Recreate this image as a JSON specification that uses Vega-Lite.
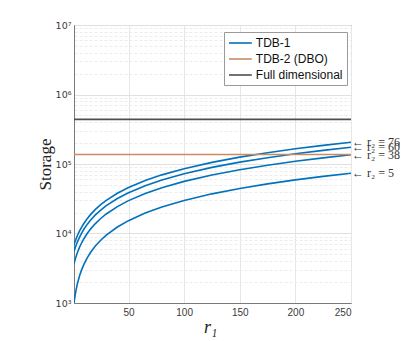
{
  "$schema": "https://vega.github.io/schema/vega-lite/v6.json",
  "width": 277,
  "height": 278,
  "autosize": {"type": "none"},
  "padding": {"left": 74, "top": 25, "right": 68, "bottom": 38},
  "background": "white",
  "config": {
    "view": {"stroke": "#7a7a7a", "strokeWidth": 1},
    "axis": {"labelFont": "Liberation Sans", "labelFontSize": 10, "labelColor": "#3a3a3a", "domainColor": "#7a7a7a", "ticks": false}
  },
  "datasets": {
    "curves": [
      {"r1": 1, "storage": 1000, "series": "r2=5", "method": "TDB-1"},
      {"r1": 2, "storage": 1292, "series": "r2=5", "method": "TDB-1"},
      {"r1": 3, "storage": 1584, "series": "r2=5", "method": "TDB-1"},
      {"r1": 4, "storage": 1876, "series": "r2=5", "method": "TDB-1"},
      {"r1": 6, "storage": 2460, "series": "r2=5", "method": "TDB-1"},
      {"r1": 8, "storage": 3044, "series": "r2=5", "method": "TDB-1"},
      {"r1": 10, "storage": 3628, "series": "r2=5", "method": "TDB-1"},
      {"r1": 13, "storage": 4504, "series": "r2=5", "method": "TDB-1"},
      {"r1": 16, "storage": 5380, "series": "r2=5", "method": "TDB-1"},
      {"r1": 20, "storage": 6548, "series": "r2=5", "method": "TDB-1"},
      {"r1": 25, "storage": 8008, "series": "r2=5", "method": "TDB-1"},
      {"r1": 30, "storage": 9468, "series": "r2=5", "method": "TDB-1"},
      {"r1": 40, "storage": 12388, "series": "r2=5", "method": "TDB-1"},
      {"r1": 50, "storage": 15308, "series": "r2=5", "method": "TDB-1"},
      {"r1": 65, "storage": 19688, "series": "r2=5", "method": "TDB-1"},
      {"r1": 80, "storage": 24068, "series": "r2=5", "method": "TDB-1"},
      {"r1": 100, "storage": 29908, "series": "r2=5", "method": "TDB-1"},
      {"r1": 125, "storage": 37208, "series": "r2=5", "method": "TDB-1"},
      {"r1": 150, "storage": 44508, "series": "r2=5", "method": "TDB-1"},
      {"r1": 175, "storage": 51808, "series": "r2=5", "method": "TDB-1"},
      {"r1": 200, "storage": 59108, "series": "r2=5", "method": "TDB-1"},
      {"r1": 225, "storage": 66408, "series": "r2=5", "method": "TDB-1"},
      {"r1": 250, "storage": 73708, "series": "r2=5", "method": "TDB-1"},

      {"r1": 1, "storage": 3701, "series": "r2=38", "method": "TDB-1"},
      {"r1": 2, "storage": 4232, "series": "r2=38", "method": "TDB-1"},
      {"r1": 3, "storage": 4763, "series": "r2=38", "method": "TDB-1"},
      {"r1": 4, "storage": 5294, "series": "r2=38", "method": "TDB-1"},
      {"r1": 6, "storage": 6356, "series": "r2=38", "method": "TDB-1"},
      {"r1": 8, "storage": 7418, "series": "r2=38", "method": "TDB-1"},
      {"r1": 10, "storage": 8480, "series": "r2=38", "method": "TDB-1"},
      {"r1": 13, "storage": 10073, "series": "r2=38", "method": "TDB-1"},
      {"r1": 16, "storage": 11666, "series": "r2=38", "method": "TDB-1"},
      {"r1": 20, "storage": 13790, "series": "r2=38", "method": "TDB-1"},
      {"r1": 25, "storage": 16445, "series": "r2=38", "method": "TDB-1"},
      {"r1": 30, "storage": 19100, "series": "r2=38", "method": "TDB-1"},
      {"r1": 40, "storage": 24410, "series": "r2=38", "method": "TDB-1"},
      {"r1": 50, "storage": 29720, "series": "r2=38", "method": "TDB-1"},
      {"r1": 65, "storage": 37685, "series": "r2=38", "method": "TDB-1"},
      {"r1": 80, "storage": 45650, "series": "r2=38", "method": "TDB-1"},
      {"r1": 100, "storage": 56270, "series": "r2=38", "method": "TDB-1"},
      {"r1": 125, "storage": 69545, "series": "r2=38", "method": "TDB-1"},
      {"r1": 150, "storage": 82820, "series": "r2=38", "method": "TDB-1"},
      {"r1": 175, "storage": 96095, "series": "r2=38", "method": "TDB-1"},
      {"r1": 200, "storage": 109370, "series": "r2=38", "method": "TDB-1"},
      {"r1": 225, "storage": 122645, "series": "r2=38", "method": "TDB-1"},
      {"r1": 250, "storage": 135920, "series": "r2=38", "method": "TDB-1"},

      {"r1": 1, "storage": 5497, "series": "r2=60", "method": "TDB-1"},
      {"r1": 2, "storage": 6174, "series": "r2=60", "method": "TDB-1"},
      {"r1": 3, "storage": 6851, "series": "r2=60", "method": "TDB-1"},
      {"r1": 4, "storage": 7528, "series": "r2=60", "method": "TDB-1"},
      {"r1": 6, "storage": 8882, "series": "r2=60", "method": "TDB-1"},
      {"r1": 8, "storage": 10236, "series": "r2=60", "method": "TDB-1"},
      {"r1": 10, "storage": 11590, "series": "r2=60", "method": "TDB-1"},
      {"r1": 13, "storage": 13621, "series": "r2=60", "method": "TDB-1"},
      {"r1": 16, "storage": 15652, "series": "r2=60", "method": "TDB-1"},
      {"r1": 20, "storage": 18360, "series": "r2=60", "method": "TDB-1"},
      {"r1": 25, "storage": 21745, "series": "r2=60", "method": "TDB-1"},
      {"r1": 30, "storage": 25130, "series": "r2=60", "method": "TDB-1"},
      {"r1": 40, "storage": 31900, "series": "r2=60", "method": "TDB-1"},
      {"r1": 50, "storage": 38670, "series": "r2=60", "method": "TDB-1"},
      {"r1": 65, "storage": 48825, "series": "r2=60", "method": "TDB-1"},
      {"r1": 80, "storage": 58980, "series": "r2=60", "method": "TDB-1"},
      {"r1": 100, "storage": 72520, "series": "r2=60", "method": "TDB-1"},
      {"r1": 125, "storage": 89445, "series": "r2=60", "method": "TDB-1"},
      {"r1": 150, "storage": 106370, "series": "r2=60", "method": "TDB-1"},
      {"r1": 175, "storage": 123295, "series": "r2=60", "method": "TDB-1"},
      {"r1": 200, "storage": 140220, "series": "r2=60", "method": "TDB-1"},
      {"r1": 225, "storage": 157145, "series": "r2=60", "method": "TDB-1"},
      {"r1": 250, "storage": 174070, "series": "r2=60", "method": "TDB-1"},

      {"r1": 1, "storage": 6896, "series": "r2=76", "method": "TDB-1"},
      {"r1": 2, "storage": 7692, "series": "r2=76", "method": "TDB-1"},
      {"r1": 3, "storage": 8488, "series": "r2=76", "method": "TDB-1"},
      {"r1": 4, "storage": 9284, "series": "r2=76", "method": "TDB-1"},
      {"r1": 6, "storage": 10876, "series": "r2=76", "method": "TDB-1"},
      {"r1": 8, "storage": 12468, "series": "r2=76", "method": "TDB-1"},
      {"r1": 10, "storage": 14060, "series": "r2=76", "method": "TDB-1"},
      {"r1": 13, "storage": 16448, "series": "r2=76", "method": "TDB-1"},
      {"r1": 16, "storage": 18836, "series": "r2=76", "method": "TDB-1"},
      {"r1": 20, "storage": 22020, "series": "r2=76", "method": "TDB-1"},
      {"r1": 25, "storage": 26000, "series": "r2=76", "method": "TDB-1"},
      {"r1": 30, "storage": 29980, "series": "r2=76", "method": "TDB-1"},
      {"r1": 40, "storage": 37940, "series": "r2=76", "method": "TDB-1"},
      {"r1": 50, "storage": 45900, "series": "r2=76", "method": "TDB-1"},
      {"r1": 65, "storage": 57840, "series": "r2=76", "method": "TDB-1"},
      {"r1": 80, "storage": 69780, "series": "r2=76", "method": "TDB-1"},
      {"r1": 100, "storage": 85700, "series": "r2=76", "method": "TDB-1"},
      {"r1": 125, "storage": 105600, "series": "r2=76", "method": "TDB-1"},
      {"r1": 150, "storage": 125500, "series": "r2=76", "method": "TDB-1"},
      {"r1": 175, "storage": 145400, "series": "r2=76", "method": "TDB-1"},
      {"r1": 200, "storage": 165300, "series": "r2=76", "method": "TDB-1"},
      {"r1": 225, "storage": 185200, "series": "r2=76", "method": "TDB-1"},
      {"r1": 250, "storage": 205100, "series": "r2=76", "method": "TDB-1"},

      {"r1": 1, "storage": 137000, "series": "dbo", "method": "TDB-2 (DBO)"},
      {"r1": 250, "storage": 137000, "series": "dbo", "method": "TDB-2 (DBO)"},
      {"r1": 1, "storage": 438976, "series": "full", "method": "Full dimensional"},
      {"r1": 250, "storage": 438976, "series": "full", "method": "Full dimensional"}
    ],
    "labels": [
      {"r1": 250, "storage": 205100, "label": "← r₂ = 76"},
      {"r1": 250, "storage": 174070, "label": "← r₂ = 60"},
      {"r1": 250, "storage": 135920, "label": "← r₂ = 38"},
      {"r1": 250, "storage": 73708, "label": "← r₂ = 5"}
    ]
  },
  "layer": [
    {
      "data": {"name": "curves"},
      "mark": {"type": "line", "strokeWidth": 1.6, "clip": true},
      "encoding": {
        "x": {
          "field": "r1", "type": "quantitative",
          "scale": {"domain": [1, 250], "nice": false, "zero": false},
          "axis": {
            "values": [50, 100, 150, 200, 250],
            "gridColor": "#e6e6e6", "gridWidth": 1,
            "labelPadding": 4,
            "title": "r₁",
            "titleFont": "Liberation Serif", "titleFontStyle": "italic", "titleFontWeight": "normal", "titleFontSize": 18, "titleColor": "#222",
            "titleX": 136, "titleY": 24, "titleBaseline": "middle", "titleAlign": "center"
          }
        },
        "y": {
          "field": "storage", "type": "quantitative",
          "scale": {"type": "log", "domain": [1000, 10000000], "nice": false},
          "axis": {
            "values": [1000, 2000, 3000, 4000, 5000, 6000, 7000, 8000, 9000, 10000, 20000, 30000, 40000, 50000, 60000, 70000, 80000, 90000, 100000, 200000, 300000, 400000, 500000, 600000, 700000, 800000, 900000, 1000000, 2000000, 3000000, 4000000, 5000000, 6000000, 7000000, 8000000, 9000000, 10000000],
            "labelExpr": "datum.value == 1000 ? '10³' : datum.value == 10000 ? '10⁴' : datum.value == 100000 ? '10⁵' : datum.value == 1000000 ? '10⁶' : datum.value == 10000000 ? '10⁷' : ''",
            "labelFont": "DejaVu Sans", "labelFontSize": 9.5,
            "labelPadding": 3,
            "gridColor": {"condition": {"test": "indexof([1000,10000,100000,1000000,10000000], datum.value) >= 0", "value": "#e0e0e0"}, "value": "#ececec"},
            "gridDash": {"condition": {"test": "indexof([1000,10000,100000,1000000,10000000], datum.value) >= 0", "value": []}, "value": [3, 2]},
            "title": "Storage",
            "titleFont": "Liberation Serif", "titleFontWeight": "normal", "titleFontSize": 17, "titleColor": "#222",
            "titleAngle": 270, "titleX": -29, "titleY": 139, "titleAlign": "center", "titleBaseline": "middle"
          }
        },
        "color": {
          "field": "method", "type": "nominal",
          "scale": {"domain": ["TDB-1", "TDB-2 (DBO)", "Full dimensional"], "range": ["#0072BD", "#CC8A60", "#4f4f4f"]},
          "legend": {
            "title": null,
            "orient": "none", "legendX": 150, "legendY": 7,
            "fillColor": "white", "strokeColor": "#9a9a9a",
            "padding": 4, "rowPadding": 3,
            "symbolType": "M-1.9,0H1.9", "symbolSize": 144, "symbolStrokeWidth": 1.6, "symbolOffset": 5.4,
            "symbolFillColor": "transparent",
            "labelFont": "Liberation Sans", "labelFontSize": 12, "labelColor": "#111", "labelOffset": 8.4
          }
        },
        "detail": {"field": "series", "type": "nominal"}
      }
    },
    {
      "data": {"name": "labels"},
      "mark": {"type": "text", "align": "left", "baseline": "middle", "dx": 1, "font": "Liberation Serif", "fontSize": 12, "color": "#333"},
      "encoding": {
        "x": {"field": "r1", "type": "quantitative"},
        "y": {"field": "storage", "type": "quantitative"},
        "text": {"field": "label"}
      }
    }
  ]
}
